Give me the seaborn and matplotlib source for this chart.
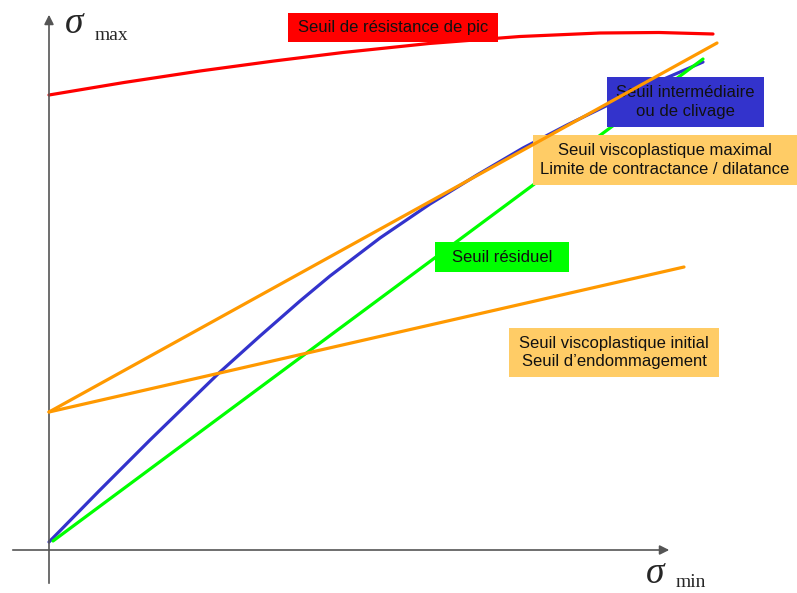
import matplotlib
matplotlib.use("Agg")
import matplotlib.pyplot as plt
from matplotlib.patches import Rectangle
import seaborn as sns
import pandas as pd

# curves (x = sigma_min, y = sigma_max, arbitrary units)
red_x = [0, 75, 151, 225, 294, 380, 471, 551, 610, 664]
red_y = [455, 467.5, 479, 489, 497.5, 506.5, 513.5, 517, 517.5, 516]

blue_x = [0, 50, 101, 136, 171, 211, 251, 281, 331, 381, 428, 474, 518, 561, 608, 654]
blue_y = [8, 59, 110, 144, 178, 214, 249, 274, 312, 346, 375, 402, 425, 446, 468, 488]

green_x = [4, 654]
green_y = [9, 491]

orange_max_x = [0, 668]
orange_max_y = [138, 507]

orange_ini_x = [0, 635]
orange_ini_y = [138, 283]

# label boxes: text, (x0, y0, x1, y1) in chart units, fill colour
labels = ["Seuil de résistance de pic",
          "Seuil intermédiaire\nou de clivage",
          "Seuil viscoplastique maximal\nLimite de contractance / dilatance",
          "Seuil résiduel",
          "Seuil viscoplastique initial\nSeuil d\u2019endommagement"]
label_boxes = [(239, 508, 449, 537),
               (558, 423, 715, 473),
               (484, 365, 748, 415),
               (386, 278, 520, 308),
               (460, 173, 670, 222)]
label_colors = ["#FF0000", "#3333CC", "#FFCC66", "#00FF00", "#FFCC66"]

sns.set_style("white")

fig = plt.figure(figsize=(7.97, 5.93), dpi=100)
ax = fig.add_axes([0, 0, 1, 1])
ax.set_xlim(-49, 748)
ax.set_ylim(-43, 550)
ax.axis("off")

lw = 2.3
sns.lineplot(x=red_x, y=red_y, color="#FF0000", lw=lw, sort=False, estimator=None, ax=ax, zorder=2)
sns.lineplot(x=blue_x, y=blue_y, color="#3333CC", lw=lw, sort=False, estimator=None, ax=ax, zorder=2)
sns.lineplot(x=green_x, y=green_y, color="#00FF00", lw=lw, sort=False, estimator=None, ax=ax, zorder=2)
sns.lineplot(x=orange_max_x, y=orange_max_y, color="#FF9900", lw=lw, sort=False, estimator=None, ax=ax, zorder=6)
sns.lineplot(x=orange_ini_x, y=orange_ini_y, color="#FF9900", lw=lw, sort=False, estimator=None, ax=ax, zorder=6)

# axes arrows
ax.annotate("", xy=(0, 538), xytext=(0, -36),
            arrowprops=dict(arrowstyle="-|>", color="#555555", lw=1.2, mutation_scale=14))
ax.annotate("", xy=(623, 0), xytext=(-39, 0),
            arrowprops=dict(arrowstyle="-|>", color="#555555", lw=1.2, mutation_scale=14))

# axis names
ax.text(16, 517, "\u03c3", fontsize=27, style="italic", family="Liberation Serif", va="baseline")
ax.text(46, 510, "max", fontsize=14, family="Liberation Serif", va="baseline")
ax.text(597, -33, "\u03c3", fontsize=27, style="italic", family="Liberation Serif", va="baseline")
ax.text(627, -37, "min", fontsize=14, family="Liberation Serif", va="baseline")

for txt, (x0, y0, x1, y1), col in zip(labels, label_boxes, label_colors):
    ax.add_patch(Rectangle((x0, y0), x1 - x0, y1 - y0, facecolor=col, edgecolor="none", zorder=3))
    ax.text((x0 + x1) / 2, (y0 + y1) / 2, txt, ha="center", va="center", fontsize=12,
            family="Liberation Sans", color="#111111", linespacing=1.3, zorder=5)

fig.savefig("out.png", dpi=100)
